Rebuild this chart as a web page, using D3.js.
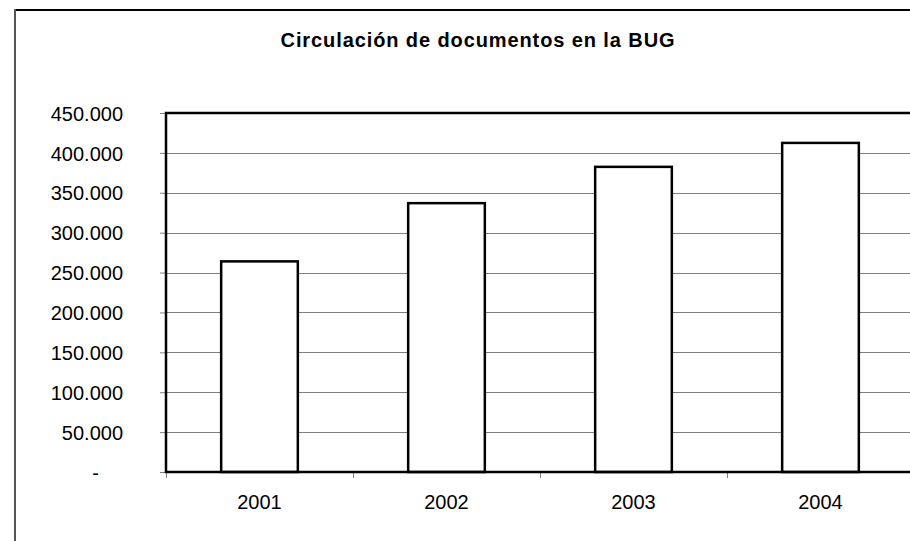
<!DOCTYPE html>
<html>
<head>
<meta charset="utf-8">
<script src="https://cdn.jsdelivr.net/npm/d3@7"></script>
<style>
  body { margin: 0; background: #fff; }
  svg { display: block; font-family: "Liberation Sans", Arial, sans-serif; }
</style>
</head>
<body>
<div id="chart"></div>
<script>
// data
var years = ['2001', '2002', '2003', '2004'];
var loans = [264000, 337000, 382500, 412500];
var yTicks = [0, 50000, 100000, 150000, 200000, 250000, 300000, 350000, 400000, 450000];
var title = 'Circulación de documentos en la BUG';

var width = 910, height = 541;
// plot box (right edge runs off the picture, as in the reference)
var plot = { left: 166, top: 113, right: 914, bottom: 472 };

var es = d3.formatLocale({ decimal: ',', thousands: '.', grouping: [3], currency: ['', ' €'] });
var fmt = es.format(',d');

var svg = d3.select('#chart').append('svg')
  .attr('width', width)
  .attr('height', height);

// outer chart frame: only top and left edges show
svg.append('line')
  .attr('x1', 15).attr('x2', width).attr('y1', 10).attr('y2', 10)
  .attr('stroke', '#000').attr('stroke-width', 2);
svg.append('line')
  .attr('x1', 15).attr('x2', 15).attr('y1', 9).attr('y2', height)
  .attr('stroke', '#555').attr('stroke-width', 2);

svg.append('text')
  .attr('x', 478).attr('y', 47)
  .attr('text-anchor', 'middle')
  .attr('font-weight', 'bold')
  .attr('font-size', 20)
  .attr('letter-spacing', 0.9)
  .text(title);

var x = d3.scaleBand()
  .domain(years)
  .range([plot.left, plot.right])
  .paddingInner(0.59)
  .paddingOuter(0.295);

var y = d3.scaleLinear()
  .domain([0, 450000])
  .range([plot.bottom, plot.top]);

// gridlines
svg.append('g').selectAll('line')
  .data(yTicks.slice(1, -1))
  .join('line')
  .attr('x1', plot.left).attr('x2', plot.right)
  .attr('y1', function(d) { return Math.round(y(d)) + 0.5; })
  .attr('y2', function(d) { return Math.round(y(d)) + 0.5; })
  .attr('stroke', '#808080').attr('stroke-width', 1);

// y axis
var yAxis = svg.append('g')
  .attr('transform', 'translate(' + plot.left + ',0)')
  .call(d3.axisLeft(y).tickValues(yTicks).tickSize(6).tickPadding(37)
    .tickFormat(function(d) { return d === 0 ? '-' : fmt(d); }));
yAxis.select('.domain').remove();
yAxis.selectAll('.tick line').attr('stroke', '#808080');
yAxis.selectAll('.tick text')
  .attr('font-size', 20)
  .attr('font-family', '"Liberation Sans", Arial, sans-serif')
  .attr('fill', '#000')
  .attr('dy', '0.36em')
  .attr('dx', function(d) { return d === 0 ? -24 : 0; });

// x axis ticks at category boundaries
svg.append('g').selectAll('line')
  .data(years)
  .join('line')
  .attr('x1', function(d) { return Math.round(x(d) - x.step() * x.paddingOuter()) + 0.5; })
  .attr('x2', function(d) { return Math.round(x(d) - x.step() * x.paddingOuter()) + 0.5; })
  .attr('y1', plot.bottom).attr('y2', plot.bottom + 6)
  .attr('stroke', '#808080');

svg.append('g').selectAll('text')
  .data(years)
  .join('text')
  .attr('x', function(d) { return x(d) + x.bandwidth() / 2; })
  .attr('y', 509)
  .attr('text-anchor', 'middle')
  .attr('font-size', 20)
  .text(function(d) { return d; });

// bars
svg.append('g').selectAll('rect')
  .data(loans)
  .join('rect')
  .attr('x', function(d, i) { return x(years[i]); })
  .attr('y', function(d) { return y(d); })
  .attr('width', x.bandwidth())
  .attr('height', function(d) { return plot.bottom - y(d); })
  .attr('fill', '#fff')
  .attr('stroke', '#000')
  .attr('stroke-width', 2.5);

// plot frame: left, top, bottom
svg.append('path')
  .attr('d', 'M' + plot.right + ',' + plot.top + 'H' + plot.left + 'V' + plot.bottom + 'H' + plot.right)
  .attr('fill', 'none')
  .attr('stroke', '#000')
  .attr('stroke-width', 2.5);
</script>
</body>
</html>
